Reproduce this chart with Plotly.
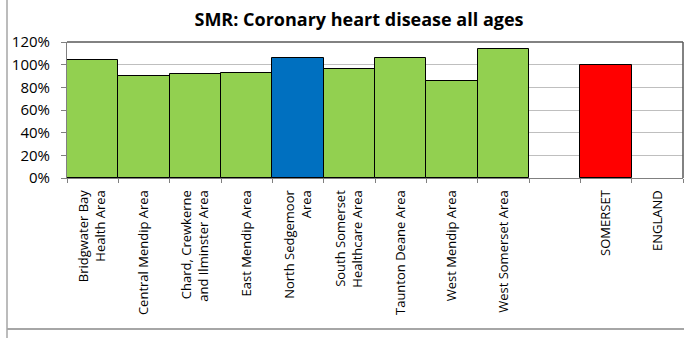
import plotly.graph_objects as go

# Standardised mortality ratio (%) by area
categories = [
    "Bridgwater Bay<br>Health Area",
    "Central Mendip Area",
    "Chard, Crewkerne<br>and Ilminster Area",
    "East Mendip Area",
    "North Sedgemoor<br>Area",
    "South Somerset<br>Healthcare Area",
    "Taunton Deane Area",
    "West Mendip Area",
    "West Somerset Area",
    " ",
    "SOMERSET",
    "ENGLAND",
]
smr_values = [104.4, 90.4, 92.1, 93.0, 106.1, 96.5, 106.1, 85.6, 113.4, None, 100.0, None]
bar_colors = ["#92D050"] * 4 + ["#0070C0"] + ["#92D050"] * 4 + ["#FFFFFF", "#FF0000", "#FFFFFF"]
y_ticks = [0, 20, 40, 60, 80, 100, 120]
y_tick_labels = [f"{v}%" for v in y_ticks]

W, H = 684, 338
L, R, T, B = 67, 1, 42, 160
pw, ph = W - L - R, H - T - B

fig = go.Figure(
    go.Bar(
        x=categories,
        y=smr_values,
        marker=dict(color=bar_colors, line=dict(color="#000000", width=1)),
        hoverinfo="x+y",
    )
)

font_family = "Open Sans, Liberation Sans, Arial, sans-serif"

fig.update_layout(
    width=W,
    height=H,
    margin=dict(l=L, r=R, t=T, b=B),
    paper_bgcolor="#FFFFFF",
    plot_bgcolor="#FFFFFF",
    bargap=0,
    showlegend=False,
    font=dict(family=font_family, color="#000000"),
    title=dict(
        text="<b>SMR: Coronary heart disease all ages</b>",
        font=dict(size=18, family=font_family, color="#000000"),
        x=(359 - L) / pw,
        xref="paper",
        xanchor="center",
        y=1 - 20 / H,
        yref="container",
        yanchor="middle",
    ),
    xaxis=dict(
        type="category",
        tickson="boundaries",
        ticks="outside",
        ticklen=4,
        tickcolor="#808080",
        tickangle=-90,
        tickfont=dict(size=13),
        ticklabelstandoff=6,
        showline=True,
        linecolor="#808080",
        linewidth=1,
        showgrid=False,
        fixedrange=True,
    ),
    yaxis=dict(
        range=[0, 120],
        tickmode="array",
        tickvals=y_ticks,
        ticktext=y_tick_labels,
        ticks="outside",
        ticklen=5,
        tickcolor="#808080",
        tickfont=dict(size=15),
        ticklabelstandoff=8,
        showline=True,
        linecolor="#808080",
        linewidth=1,
        showgrid=True,
        gridcolor="#BFBFBF",
        gridwidth=1,
        zeroline=False,
        fixedrange=True,
    ),
    shapes=[
        # plot frame (top and right edges)
        dict(type="line", xref="paper", yref="paper", x0=0, x1=1, y0=1, y1=1,
             line=dict(color="#595959", width=1.5)),
        dict(type="line", xref="paper", yref="paper", x0=1, x1=1, y0=0, y1=1,
             line=dict(color="#595959", width=1.5)),
        # outer chart frame
        dict(type="line", xref="paper", yref="paper",
             x0=(7 - L) / pw, x1=(7 - L) / pw, y0=(H - T) / ph + 0.01, y1=-(B) / ph - 0.01,
             line=dict(color="#A6A6A6", width=1.5)),
        dict(type="line", xref="paper", yref="paper",
             x0=(7 - L) / pw, x1=(W - L) / pw, y0=(T + ph - 329) / ph, y1=(T + ph - 329) / ph,
             line=dict(color="#A6A6A6", width=2)),
    ],
)

fig.write_html("out.html")
